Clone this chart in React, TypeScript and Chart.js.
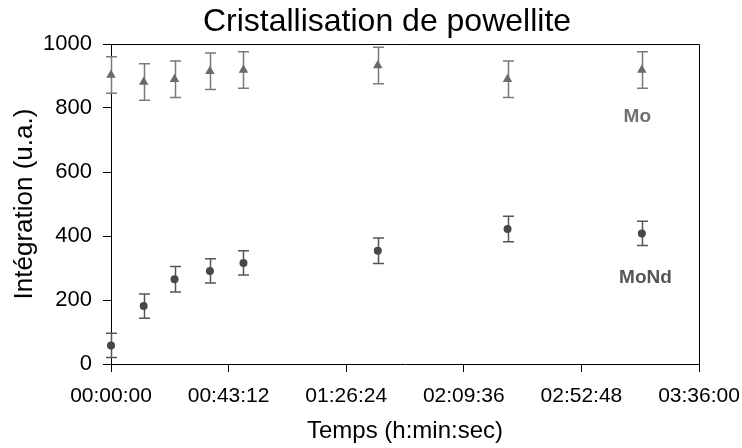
import { useEffect, useRef } from "react";
import { Chart, registerables } from "chart.js";

Chart.register(...registerables);

// ---- Data ----
const timesSec = [0, 720, 1400, 2180, 2920, 5880, 8740, 11700];
const moValues = [903, 881, 890, 915, 919, 933, 890, 919];
const moErrors = [57, 57, 57, 57, 57, 57, 57, 57];
const mondValues = [58, 181, 265, 291, 316, 354, 422, 408];
const mondErrors = [38, 38, 40, 38, 38, 40, 40, 38];

const xMin = 0;
const xMax = 12960; // 03:36:00
const xStep = 2592; // 00:43:12
const yMin = 0;
const yMax = 1000;
const yStep = 200;

const seriesNames = ["Mo", "MoNd"];
const seriesLabelTimes = [11600, 11780];
const seriesLabelValues = [772, 270];

const titleText = "Cristallisation de powellite";
const xTitle = "Temps (h:min:sec)";
const yTitle = "Intégration (u.a.)";

const FONT = "'Liberation Sans', Arial, Helvetica, sans-serif";

function fmtTime(sec: number): string {
  const s = Math.round(sec);
  const h = Math.floor(s / 3600);
  const m = Math.floor((s % 3600) / 60);
  const r = s % 60;
  const p = (n: number) => String(n).padStart(2, "0");
  return `${p(h)}:${p(m)}:${p(r)}`;
}

const errorBarsPlugin = {
  id: "errorBars",
  beforeDatasetsDraw(chart: any) {
    const ctx = chart.ctx;
    const xs = chart.scales.x;
    const ys = chart.scales.y;
    chart.data.datasets.forEach((ds: any) => {
      const errs: number[] = ds.errors || [];
      ctx.save();
      ctx.strokeStyle = ds.errorColor;
      ctx.lineWidth = 1.5;
      ds.data.forEach((pt: any, j: number) => {
        const e = errs[j];
        if (e == null) return;
        const x = Math.round(xs.getPixelForValue(pt.x)) + 0.5;
        const y1 = ys.getPixelForValue(pt.y + e);
        const y2 = ys.getPixelForValue(pt.y - e);
        const cap = 5.5;
        ctx.beginPath();
        ctx.moveTo(x, y1);
        ctx.lineTo(x, y2);
        ctx.moveTo(x - cap, y1);
        ctx.lineTo(x + cap, y1);
        ctx.moveTo(x - cap, y2);
        ctx.lineTo(x + cap, y2);
        ctx.stroke();
      });
      ctx.restore();
    });
  },
};

const frameAndLabelsPlugin = {
  id: "frameAndLabels",
  afterDatasetsDraw(chart: any) {
    const ctx = chart.ctx;
    const xs = chart.scales.x;
    const ys = chart.scales.y;
    ctx.save();
    ctx.font = `bold 19px ${FONT}`;
    ctx.textAlign = "center";
    ctx.textBaseline = "middle";
    seriesNames.forEach((name, i) => {
      ctx.fillStyle = chart.data.datasets[i].labelColor;
      ctx.fillText(
        name,
        xs.getPixelForValue(seriesLabelTimes[i]),
        ys.getPixelForValue(seriesLabelValues[i])
      );
    });
    ctx.restore();
  },
  afterDraw(chart: any) {
    const { left, top, right, bottom } = chart.chartArea;
    const ctx = chart.ctx;
    ctx.save();
    ctx.strokeStyle = "#000";
    ctx.lineWidth = 1;
    ctx.beginPath();
    ctx.moveTo(left, top + 0.5);
    ctx.lineTo(right + 0.5, top + 0.5);
    ctx.lineTo(right + 0.5, bottom);
    ctx.stroke();
    ctx.restore();
  },
};

export default function App() {
  const ref = useRef<HTMLCanvasElement | null>(null);

  useEffect(() => {
    if (!ref.current) return;
    const chart = new Chart(ref.current, {
      type: "scatter",
      data: {
        datasets: [
          {
            label: seriesNames[0],
            data: timesSec.map((t, i) => ({ x: t, y: moValues[i] })),
            pointStyle: "triangle",
            pointRadius: 5.5,
            backgroundColor: "#6a6a6a",
            borderColor: "#6a6a6a",
            borderWidth: 0,
            clip: false,
            errors: moErrors,
            errorColor: "#7a7a7a",
            labelColor: "#707070",
          } as any,
          {
            label: seriesNames[1],
            data: timesSec.map((t, i) => ({ x: t, y: mondValues[i] })),
            pointStyle: "circle",
            pointRadius: 4,
            backgroundColor: "#474747",
            borderColor: "#474747",
            borderWidth: 0,
            clip: false,
            errors: mondErrors,
            errorColor: "#555555",
            labelColor: "#565656",
          } as any,
        ],
      },
      options: {
        responsive: false,
        animation: false,
        layout: { padding: { left: 32, right: 0, top: 0, bottom: 0 } },
        plugins: {
          legend: { display: false },
          tooltip: { enabled: false },
          title: {
            display: true,
            text: titleText,
            color: "#000",
            font: { family: FONT, size: 32, weight: "normal" },
            padding: { top: 3, bottom: 2.6 },
          },
        },
        scales: {
          x: {
            type: "linear",
            min: xMin,
            max: xMax,
            afterFit: (s: any) => {
              s.height = 84;
              s.paddingLeft = 0;
              s.paddingRight = 43;
            },
            ticks: {
              stepSize: xStep,
              autoSkip: false,
              maxRotation: 0,
              minRotation: 0,
              padding: 12,
              color: "#000",
              font: { family: FONT, size: 21 },
              callback: (v: any) => fmtTime(Number(v)),
            },
            grid: {
              drawOnChartArea: false,
              drawTicks: true,
              tickLength: 8,
              color: "#000",
            },
            border: { display: true, color: "#000", width: 1 },
            title: {
              display: true,
              text: xTitle,
              color: "#000",
              font: { family: FONT, size: 24 },
              padding: { top: 0, bottom: 2 },
            },
          },
          y: {
            type: "linear",
            min: yMin,
            max: yMax,
            afterFit: (s: any) => {
              s.width = 79;
            },
            ticks: {
              stepSize: yStep,
              padding: 11,
              color: "#000",
              font: { family: FONT, size: 22 },
              callback: (v: any) => String(v),
            },
            grid: {
              drawOnChartArea: false,
              drawTicks: true,
              tickLength: 8,
              color: "#000",
            },
            border: { display: true, color: "#000", width: 1 },
            title: {
              display: true,
              text: yTitle,
              color: "#000",
              font: { family: FONT, size: 26 },
              padding: { top: -22.6, bottom: 0 },
            },
          },
        },
      },
      plugins: [errorBarsPlugin, frameAndLabelsPlugin],
    } as any);
    return () => chart.destroy();
  }, []);

  return (
    <div style={{ position: "absolute", left: 0, top: 0, width: 742, height: 448, background: "#fff" }}>
      <canvas ref={ref} width={742} height={448} style={{ display: "block" }} />
    </div>
  );
}
